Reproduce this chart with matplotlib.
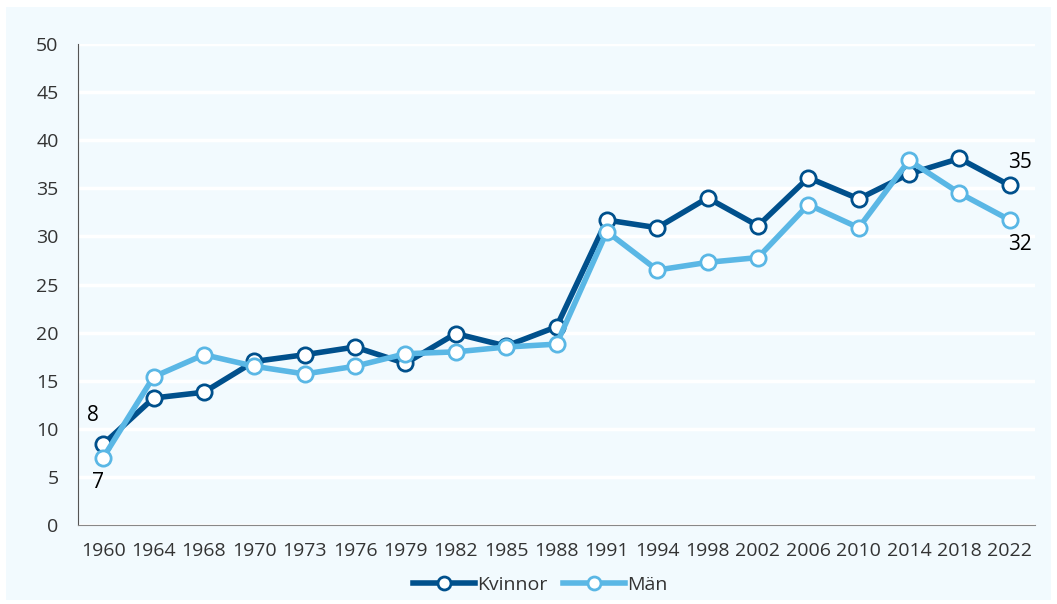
import numpy as np
import matplotlib.pyplot as plt
from matplotlib.patches import Rectangle

plt.rcParams["font.family"] = ["Open Sans", "DejaVu Sans"]

years = ["1960", "1964", "1968", "1970", "1973", "1976", "1979", "1982", "1985", "1988",
         "1991", "1994", "1998", "2002", "2006", "2010", "2014", "2018", "2022"]
kvinnor = [8.4, 13.2, 13.8, 17.0, 17.7, 18.5, 16.8, 19.9, 18.6, 20.6,
           31.7, 30.9, 34.0, 31.1, 36.1, 33.9, 36.5, 38.1, 35.3]
man = [7.0, 15.4, 17.7, 16.5, 15.7, 16.5, 17.8, 18.0, 18.5, 18.8,
       30.5, 26.5, 27.3, 27.8, 33.3, 30.9, 37.9, 34.5, 31.7]

dark = "#00508C"
light = "#5AB7E5"
bg = "#F2FAFE"

dpi = 100
fig = plt.figure(figsize=(1057/dpi, 604/dpi), dpi=dpi)
fig.patch.set_facecolor("white")
# light blue panel behind the whole chart
fig.patches.append(Rectangle((6/1057, 4/604), 1045/1057, 593/604,
                             transform=fig.transFigure, facecolor=bg,
                             edgecolor="none", zorder=-10))

ax = fig.add_axes([78/1057, 1 - 525/604, 957/1057, 481/604])
ax.set_facecolor(bg)

x = np.arange(len(years))
ax.plot(x, kvinnor, color=dark, lw=4, marker="o", ms=11, mfc="white",
        mec=dark, mew=2, label="Kvinnor", zorder=3)
ax.plot(x, man, color=light, lw=4, marker="o", ms=11, mfc="white",
        mec=light, mew=2, label="Män", zorder=4)

ax.set_xlim(-0.5, len(years) - 0.5)
ax.set_ylim(0, 50)
ax.set_yticks(range(0, 51, 5))
ax.set_xticks(x)
ax.set_xticklabels(years)
ax.grid(axis="y", color="white", lw=2.5, zorder=0)
ax.set_axisbelow(True)
for s in ["top", "right"]:
    ax.spines[s].set_visible(False)
ax.spines["left"].set_color("#555555")
ax.spines["bottom"].set_color("#888888")
ax.tick_params(axis="both", length=0, labelsize=14, colors="#333333")
ax.tick_params(axis="y", pad=14)
ax.tick_params(axis="x", pad=12)

# end labels
ax.text(x[0] - 0.2, kvinnor[0] + 1.9, f"{kvinnor[0]:.0f}", fontsize=15,
        ha="center", va="bottom", color="black")
ax.text(x[0] - 0.1, man[0] - 1.5, f"{man[0]:.0f}", fontsize=15,
        ha="center", va="top", color="black")
ax.text(x[-1] + 0.2, kvinnor[-1] + 1.3, f"{kvinnor[-1]:.0f}", fontsize=15,
        ha="center", va="bottom", color="black")
ax.text(x[-1] + 0.2, man[-1] - 1.4, f"{man[-1]:.0f}", fontsize=15,
        ha="center", va="top", color="black")

fig.legend(loc="center", bbox_to_anchor=(540/1057, 1 - 585/604), ncol=2,
           frameon=False, fontsize=14, handlelength=3.2, handletextpad=0.1,
           columnspacing=0.8, labelcolor="#333333", markerscale=0.85)

fig.savefig("out.png", dpi=dpi, facecolor="white")
